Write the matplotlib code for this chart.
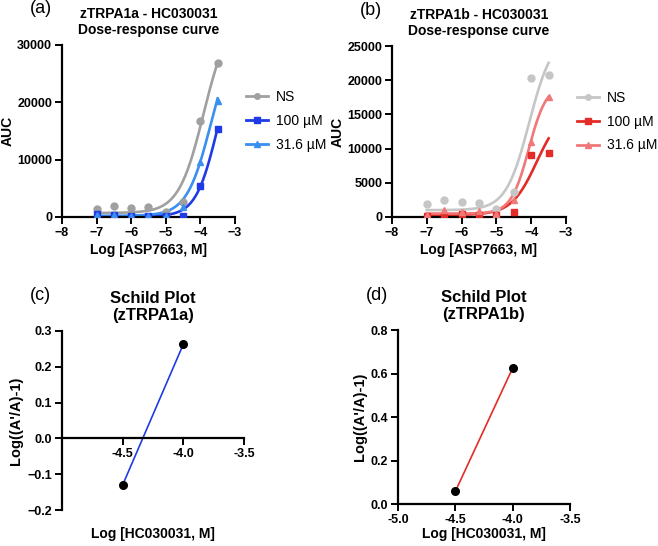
import numpy as np
import matplotlib
matplotlib.use("Agg")
import matplotlib.pyplot as plt

plt.rcParams['font.family'] = ['Liberation Sans', 'DejaVu Sans']

# ---------------- data ----------------
log_asp = [-7, -6.5, -6, -5.5, -5, -4.5, -4, -3.5]
series_labels = ["NS", "100 µM", "31.6 µM"]

# panel (a) zTRPA1a
a_ns = [1450, 2000, 1600, 1700, 900, 2700, 16700, 26800]
a_100 = [580, 300, 230, 170, 100, 170, 5360, 15260]
a_316 = [300, 300, 250, 250, 150, 1750, 9600, 20270]
# fitted 4PL parameters (bottom, top, logEC50, hill)
a_fits = [(700, 35540, -3.901, 1.2),
          (100, 30170, -3.514, 1.4),
          (200, 32400, -3.694, 1.25)]

# panel (b) zTRPA1b
b_ns = [1850, 2530, 2190, 2050, 1220, 3650, 20320, 20800]
b_100 = [150, 100, 490, 240, 240, 680, 9110, 9400]
b_316 = [240, 970, 730, 880, 490, 2440, 10960, 17540]
b_fits = [(1000, 26600, -4.058, 1.3),
          (300, 15900, -3.838, 1.2),
          (500, 19440, -4.069, 1.7)]

# Schild plots
schild_x = [-4.5, -4.0]
schild_a = [-0.13, 0.263]
schild_b = [0.058, 0.625]

a_colors = ["#a0a0a0", "#1f3be8", "#3a8ff0"]
b_colors = ["#c6c6c6", "#e32b27", "#f07878"]
markers = ["o", "s", "^"]


def four_pl(x, b, t, ec, h):
    return b + (t - b) / (1 + 10 ** ((ec - x) * h))


fig = plt.figure(figsize=(6.58, 5.46), dpi=100)


def style(ax):
    for s in ["top", "right"]:
        ax.spines[s].set_visible(False)
    for s in ["left", "bottom"]:
        ax.spines[s].set_linewidth(1.6)
    ax.tick_params(width=1.4, length=5, labelsize=9, pad=2)
    for lab in ax.get_xticklabels() + ax.get_yticklabels():
        lab.set_fontweight("bold")


def dose_panel(rect, data, fits, colors, yticks, ymax, title, letter):
    ax = fig.add_axes(rect)
    xs = np.linspace(-7, -3.5, 200)
    handles = []
    for d, f, c, m, lab in zip(data, fits, colors, markers, series_labels):
        ax.plot(xs, four_pl(xs, *f), color=c, lw=1.9, zorder=2)
        ax.plot(log_asp, d, ls="none", marker=m, color=c, ms=5, zorder=3)
        h, = ax.plot([], [], color=c, lw=2.0, marker=m, ms=4, label=lab)
        handles.append(h)
    ax.set_xlim(-8, -3)
    ax.set_ylim(0, ymax)
    ax.set_xticks([-8, -7, -6, -5, -4, -3])
    ax.set_yticks(yticks)
    ax.set_xlabel("Log [ASP7663, M]", fontsize=10, fontweight="bold", labelpad=3)
    ax.set_ylabel("AUC", fontsize=10, fontweight="bold", labelpad=2)
    ax.set_title(title, fontsize=10, fontweight="bold", pad=8, linespacing=1.2)
    style(ax)
    ax.legend(handles=handles, loc="upper left", bbox_to_anchor=(1.03, 0.77),
              frameon=False, fontsize=10, handlelength=1.6, handletextpad=0.6,
              labelspacing=0.7, borderaxespad=0)
    ax.text(-0.12, 1.21, letter, transform=ax.transAxes, fontsize=13,
            ha="center", va="center")
    return ax


dose_panel([0.0942, 0.6026, 0.2628, 0.315], [a_ns, a_100, a_316], a_fits, a_colors,
           [0, 10000, 20000, 30000], 30000, "zTRPA1a - HC030031\nDose-response curve", "(a)")
dose_panel([0.5957, 0.6026, 0.2645, 0.313], [b_ns, b_100, b_316], b_fits, b_colors,
           [0, 5000, 10000, 15000, 20000, 25000], 25000, "zTRPA1b - HC030031\nDose-response curve", "(b)")

# (c)
axc = fig.add_axes([0.0942, 0.0659, 0.2766, 0.3279])
axc.plot(schild_x, schild_a, color="#1f3be8", lw=1.2, zorder=2)
axc.plot(schild_x, schild_a, ls="none", marker="o", color="black", ms=5.5, zorder=3)
axc.set_xlim(-5, -3.5)
axc.set_ylim(-0.2, 0.3)
axc.set_xticks([-4.5, -4.0, -3.5])
axc.set_xticklabels(["-4.5", "-4.0", "-3.5"])
axc.set_yticks([-0.2, -0.1, 0.0, 0.1, 0.2, 0.3])
axc.spines["bottom"].set_position(("data", 0))
axc.set_xlabel("Log [HC030031, M]", fontsize=10, fontweight="bold")
axc.xaxis.set_label_coords(0.5, -0.095)
axc.set_ylabel("Log((A'/A)-1)", fontsize=10.5, fontweight="bold", labelpad=3)
axc.set_title("Schild Plot\n(zTRPA1a)", fontsize=12, fontweight="bold", pad=8, linespacing=1.15)
style(axc)
axc.text(-0.12, 1.2, "(c)", transform=axc.transAxes, fontsize=13, ha="center", va="center")

# (d)
axd = fig.add_axes([0.6049, 0.0769, 0.2613, 0.3187])
axd.plot(schild_x, schild_b, color="#e32b27", lw=1.2, zorder=2)
axd.plot(schild_x, schild_b, ls="none", marker="o", color="black", ms=5.5, zorder=3)
axd.set_xlim(-5, -3.5)
axd.set_ylim(0, 0.8)
axd.set_xticks([-5.0, -4.5, -4.0, -3.5])
axd.set_xticklabels(["-5.0", "-4.5", "-4.0", "-3.5"])
axd.set_yticks([0.0, 0.2, 0.4, 0.6, 0.8])
axd.set_xlabel("Log [HC030031, M]", fontsize=10, fontweight="bold", labelpad=1)
axd.set_ylabel("Log((A'/A)-1)", fontsize=10.5, fontweight="bold", labelpad=3)
axd.set_title("Schild Plot\n(zTRPA1b)", fontsize=12, fontweight="bold", pad=8, linespacing=1.15)
style(axd)
axd.text(-0.12, 1.2, "(d)", transform=axd.transAxes, fontsize=13, ha="center", va="center")

fig.savefig("out.png", dpi=100)
